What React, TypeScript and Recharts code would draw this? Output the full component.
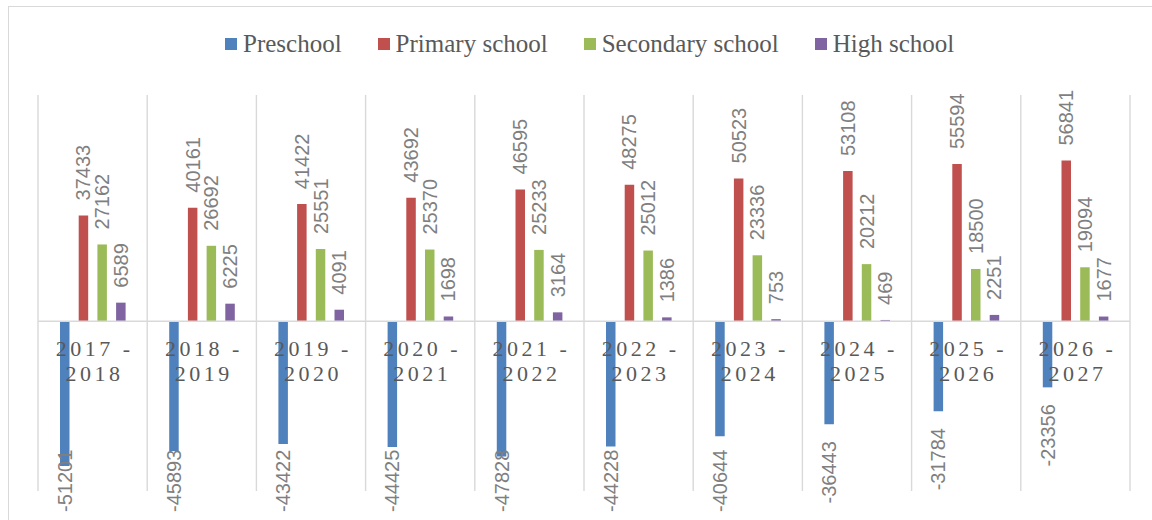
import { ComposedChart, Bar, Line, XAxis, YAxis, CartesianGrid, ReferenceLine, LabelList } from 'recharts'

const categories = ['2017 - 2018', '2018 - 2019', '2019 - 2020', '2020 - 2021', '2021 - 2022', '2022 - 2023', '2023 - 2024', '2024 - 2025', '2025 - 2026', '2026 - 2027']
const preschool = [-51201, -45893, -43422, -44425, -47828, -44228, -40644, -36443, -31784, -23356]
const primary = [37433, 40161, 41422, 43692, 46595, 48275, 50523, 53108, 55594, 56841]
const secondary = [27162, 26692, 25551, 25370, 25233, 25012, 23336, 20212, 18500, 19094]
const high = [6589, 6225, 4091, 1698, 3164, 1386, 753, 469, 2251, 1677]
const yDomain = [-60000, 80000]

const series = [
    { key: 'preschool', name: 'Preschool', color: '#4F81BD' },
    { key: 'primary', name: 'Primary school', color: '#C0504D' },
    { key: 'secondary', name: 'Secondary school', color: '#9BBB59' },
    { key: 'high', name: 'High school', color: '#8064A2' },
]

const data = categories.map((cat, i) => ({
    cat,
    preschool: preschool[i],
    primary: primary[i],
    secondary: secondary[i],
    high: high[i],
}))

const LABEL_FONT = '"Liberation Sans", Arial, sans-serif'
const SERIF = '"Liberation Serif", "Times New Roman", serif'
const CHART_BOTTOM = 512

// gridlines sit on the category boundaries, not on the category centres
function categoryBoundaries({ offset }: any) {
    const step = offset.width / categories.length
    return Array.from({ length: categories.length + 1 }, (_, i) => offset.left + i * step)
}

function renderValueLabel(props: any) {
    const vb = props.viewBox || {}
    const x = props.x ?? vb.x
    const y = props.y ?? vb.y
    const width = props.width ?? vb.width
    const height = props.height ?? vb.height
    const value = Number(props.value)
    const cx = x + width / 2
    const top = Math.min(y, y + height)
    const bottom = Math.max(y, y + height)
    const text = String(value)
    if(value >= 0) {
        const ay = top - 15
        return (
            <text x={cx} y={ay} transform={`rotate(-90 ${cx} ${ay})`} textAnchor="start" dominantBaseline="central"
                fontFamily={LABEL_FONT} fontSize={20} fill="#7f7f7f">{text}</text>
        )
    }
    // negative: text hangs below the bar, kept inside the chart area
    const len = text.length * 11.1 - 4.5
    const ay = Math.min(bottom + 17 + len, CHART_BOTTOM)
    return (
        <text x={cx} y={ay} transform={`rotate(-90 ${cx} ${ay})`} textAnchor="start" dominantBaseline="central"
            fontFamily={LABEL_FONT} fontSize={20} fill="#7f7f7f">{text}</text>
    )
}

function CategoryTick(props: any) {
    const { cx, cy, payload, index } = props
    if(cx == null || cy == null) return <g key={index} />
    const [a, b] = String(payload.cat).split(' - ')
    return (
        <g key={`cat-${index}`}>
            <text x={cx + 2} y={cy + 35} textAnchor="middle" fontFamily={SERIF} fontSize={22} letterSpacing={3.5} fill="#595959">{`${a} -`}</text>
            <text x={cx + 2} y={cy + 60} textAnchor="middle" fontFamily={SERIF} fontSize={22} letterSpacing={3.5} fill="#595959">{b}</text>
        </g>
    )
}

function ChartLegend() {
    return (
        <div style={{ position: 'absolute', top: 31, left: 225, display: 'flex', alignItems: 'center', fontFamily: SERIF, fontSize: 25, lineHeight: '25px', color: '#595959', whiteSpace: 'nowrap' }}>
            {series.map((s) => (
                <div key={s.key} style={{ display: 'flex', alignItems: 'center', marginRight: 36 }}>
                    <span style={{ display: 'inline-block', width: 12, height: 12, background: s.color, marginRight: 6 }} />
                    <span>{s.name}</span>
                </div>
            ))}
        </div>
    )
}

export default function App() {
    return (
        <div style={{ position: 'fixed', left: 0, top: 0, width: 1152, height: 520, overflow: 'hidden', background: '#fff' }}>
            <div style={{ position: 'absolute', left: 8, top: 6, width: 1144, height: 514, borderLeft: '1px solid #d9d9d9', borderTop: '1px solid #d9d9d9' }} />
            <ChartLegend />
            <div style={{ position: 'absolute', left: 0, top: 0 }}>
                <ComposedChart width={1152} height={520} data={data} margin={{ top: 95, right: 22, bottom: 29, left: 38 }} barSize={9.5} barGap={9.2}>
                    <XAxis dataKey="cat" hide />
                    <YAxis domain={yDomain} allowDataOverflow hide />
                    <CartesianGrid horizontal={false} verticalCoordinatesGenerator={categoryBoundaries} stroke="#d9d9d9" strokeWidth={1.4} />
                    {series.map((s) => (
                        <Bar key={s.key} dataKey={s.key} name={s.name} fill={s.color} isAnimationActive={false}>
                            <LabelList dataKey={s.key} content={renderValueLabel} />
                        </Bar>
                    ))}
                    <ReferenceLine y={0} stroke="#d9d9d9" strokeWidth={1.6} />
                    <Line dataKey={() => 0} stroke="none" dot={CategoryTick} activeDot={false} isAnimationActive={false} legendType="none" />
                </ComposedChart>
            </div>
        </div>
    )
}
